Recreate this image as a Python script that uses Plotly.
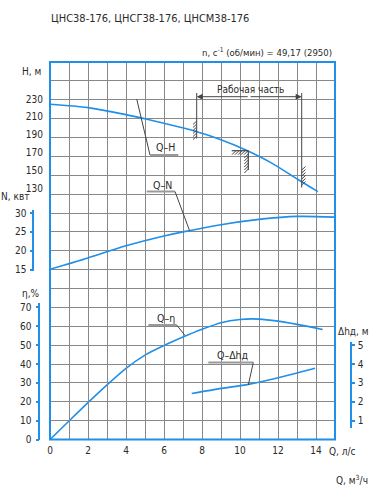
import plotly.graph_objects as go

# ---------------- data ----------------
title_text = "ЦНС38-176, ЦНСГ38-176, ЦНСМ38-176"
q_ticks = list(range(0, 16))
q_tick_labels = [str(v) if v % 2 == 0 and v < 15 else " " for v in q_ticks]
qm_ticks = list(range(0, 51, 5))
qm_tick_labels = [str(v) if v % 10 == 0 else " " for v in qm_ticks]
h_ticks = [130, 150, 170, 190, 210, 230]
n_ticks = [15, 20, 25, 30]
eta_ticks = [0, 10, 20, 30, 40, 50, 60, 70]
dh_ticks = [1, 2, 3, 4, 5]

q_h = [0, 2.0, 4.0, 5.0, 6.0, 7.6, 9.0, 10.25, 11.65, 13.05, 14.1]
h_vals = [224.1, 220.3, 212.5, 207.8, 202.8, 194.2, 184.5, 173.5, 158.5, 139.8, 126.2]

q_n = [0, 2.0, 4.0, 6.0, 7.0, 9.0, 11.0, 13.0, 15.0]
n_vals = [15.1, 18.1, 21.3, 23.9, 25.0, 26.9, 28.3, 29.1, 28.9]

q_eta = [0, 1, 2, 3, 4, 5, 6, 7, 8, 9, 10, 11, 12, 13, 14.35]
eta_vals = [0, 9.8, 19.5, 28.9, 37.7, 44.7, 49.8, 54.3, 58.4, 61.9, 63.6, 63.8, 62.7, 61.0, 58.3]

q_dh = [7.46, 9.04, 10.44, 12.02, 13.95]
dh_vals = [2.44, 2.71, 2.92, 3.27, 3.77]

# ---------------- layout geometry (pixels) ----------------
W, HGT = 379, 500
ML, MR, MT, MB = 20, 20, 62, 33
PW = W - ML - MR
PH = HGT - MT - MB
X0, X1 = 50, 335          # plot frame left/right
Y_TOP, Y_BOT = 62, 439.5  # plot frame top/bottom
ROW = (Y_BOT - Y_TOP) / 20
H_PX = 0.893              # pixels per metre of head


def fx(px):
    return (px - ML) / PW


def fy(py):
    return (HGT - MB - py) / PH


def row(py):
    return (Y_BOT - py) / ROW


def h_at(py):
    return 230 - (py - 99) / H_PX


BLUE = "#1f8fea"
GRID = "#888888"
TXT = "#2a2a2a"
DARK = "#454545"
FONT = "Liberation Sans Narrow, DejaVu Sans Condensed, Liberation Sans, sans-serif"

fig = go.Figure()
line_style = dict(color=BLUE, width=1.6, shape="spline", smoothing=0.8)
fig.add_trace(go.Scatter(x=q_h, y=h_vals, mode="lines", line=line_style, xaxis="x", yaxis="y"))
fig.add_trace(go.Scatter(x=q_n, y=n_vals, mode="lines", line=line_style, xaxis="x", yaxis="y3"))
fig.add_trace(go.Scatter(x=q_eta, y=eta_vals, mode="lines", line=line_style, xaxis="x", yaxis="y2"))
fig.add_trace(go.Scatter(x=q_dh, y=dh_vals, mode="lines", line=line_style, xaxis="x", yaxis="y4"))

tickfont = dict(family=FONT, size=10, color=TXT)
xdom = [fx(X0), fx(X1)]
common = dict(automargin=False, zeroline=False)
axline = dict(showline=True, linecolor=BLUE, linewidth=1.5, ticks="outside", ticklen=3,
              tickcolor=BLUE, tickwidth=1.5, tickfont=tickfont, showgrid=False)

fig.update_layout(
    width=W, height=HGT,
    margin=dict(l=ML, r=MR, t=MT, b=MB, autoexpand=False),
    paper_bgcolor="white", plot_bgcolor="rgba(0,0,0,0)",
    showlegend=False,
    font=dict(family=FONT, size=11, color=TXT),
    xaxis=dict(domain=xdom, range=[0, 15], anchor="y", tickvals=q_ticks, ticktext=q_tick_labels,
               showgrid=True, gridcolor=GRID, gridwidth=1.4, showline=False,
               ticks="", tickfont=tickfont, ticklabelstandoff=3, **common),
    xaxis2=dict(domain=xdom, range=[0, 54], anchor="free", position=0, overlaying="x",
                tickvals=qm_ticks, ticktext=qm_tick_labels, ticklabelstandoff=4, **axline, **common),
    yaxis=dict(domain=[fy(Y_BOT), fy(Y_TOP)], range=[h_at(Y_BOT), h_at(Y_TOP)], anchor="x",
               tickvals=h_ticks, showgrid=False, showline=False, ticks="", tickfont=tickfont,
               ticklabelstandoff=6,
               minor=dict(tickmode="linear", tick0=h_at(Y_BOT), dtick=ROW / H_PX, showgrid=True,
                          gridcolor=GRID, gridwidth=1.4, ticks=""),
               **common),
    yaxis2=dict(domain=[fy(Y_BOT), fy(303.3)], range=[0, row(303.3) * 10], anchor="free",
                position=fx(39.3), tickvals=eta_ticks, ticklabelstandoff=2, **axline, **common),
    yaxis3=dict(domain=[fy(270.5), fy(210)], range=[5 * row(270.5) - 30, 5 * row(210) - 30],
                anchor="free", position=fx(33.3), tickvals=n_ticks, ticklabelstandoff=1,
                **axline, **common),
    yaxis4=dict(domain=[fy(428.3), fy(341.7)], range=[row(428.3), row(341.7)], anchor="free",
                side="right", position=fx(351), tickvals=dh_ticks, ticklabelstandoff=1,
                **axline, **common),
)

# plot frame (drawn over the grid)
fig.add_shape(type="rect", xref="paper", yref="paper", x0=fx(X0), x1=fx(X1), y0=fy(Y_BOT), y1=fy(Y_TOP),
              line=dict(color=BLUE, width=2), layer="above")


# ---------------- text annotations ----------------
def text(t, px, py, xanchor="center", size=11):
    fig.add_annotation(text=t, x=fx(px), y=fy(py), xref="paper", yref="paper",
                       xanchor=xanchor, yanchor="middle", showarrow=False,
                       font=dict(family=FONT, size=size, color=TXT))


text(title_text, 49, 18.5, "left", 11)
text("n, c<sup>-1</sup> (об/мин) = 49,17 (2950)", 334, 52, "right", 9.5)
text("H, м", 43, 71.7, "right", 10)
text("N, квт", 31, 196.7, "right", 10)
text("η,%", 42, 293.3, "right", 10)
text("Δhд, м", 336, 331.7, "left", 10)
text("Q, л/с", 327, 451, "left", 10)
text("Q, м<sup>3</sup>/ч", 334, 480, "left", 10)
text("Q–H", 165, 147.3, "center", 10.5)
text("Q–N", 162, 184.5, "center", 10.5)
text("Q–η", 166, 318.3, "center", 10.5)
text("Q–Δhд", 232.5, 355, "center", 10.5)
text("Рабочая часть", 250.5, 89.3, "center", 10)


def seg(x0, y0, x1, y1, color=DARK, width=1):
    fig.add_shape(type="line", xref="paper", yref="paper",
                  x0=fx(x0), y0=fy(y0), x1=fx(x1), y1=fy(y1),
                  line=dict(color=color, width=width))


# leaders and underlines
seg(136.7, 99, 150, 155)
seg(150, 155, 178.3, 155, "#9a9a9a", 2)
seg(146.7, 191.5, 175, 191.5, "#9a9a9a", 2)
seg(175, 191.5, 189.5, 230.5)
seg(148.3, 325, 176.7, 325, "#9a9a9a", 2)
seg(176.7, 325, 185, 335.5)
seg(208.3, 362.5, 253.3, 362.5, "#9a9a9a", 2)
seg(253.3, 362.5, 248.3, 385)

# working range dimension
seg(196.7, 93, 196.7, 138.5)
seg(301.7, 93, 301.7, 187.5)
for (xa, xb) in [(196.7, 249.2), (301.7, 249.2)]:
    fig.add_annotation(x=fx(xa), y=fy(96.7), ax=xb - xa, ay=0, xref="paper", yref="paper",
                       axref="pixel", ayref="pixel", text="", showarrow=True,
                       arrowhead=2, arrowsize=1.2, arrowwidth=1, arrowcolor=DARK)

# hatch marks at working range limits and optimum point
y = 121
while y < 138:
    seg(193, y + 3.5, 196.7, y, DARK, 1)
    y += 3
y = 170
while y < 188:
    seg(301.7, y, 305.5, y - 3.5, DARK, 1)
    y += 3
seg(231.7, 150.7, 248.3, 150.7, DARK, 1.2)
seg(248.3, 150.7, 248.3, 170, DARK, 1.2)
x = 232
while x < 245:
    seg(x, 154.7, x + 4, 150.7, DARK, 1)
    x += 3
y = 154
while y < 170:
    seg(244.3, y + 4, 248.3, y, DARK, 1)
    y += 3

fig.write_html("out.html", config={"displayModeBar": False},
               post_script="document.body.style.margin='0';")
